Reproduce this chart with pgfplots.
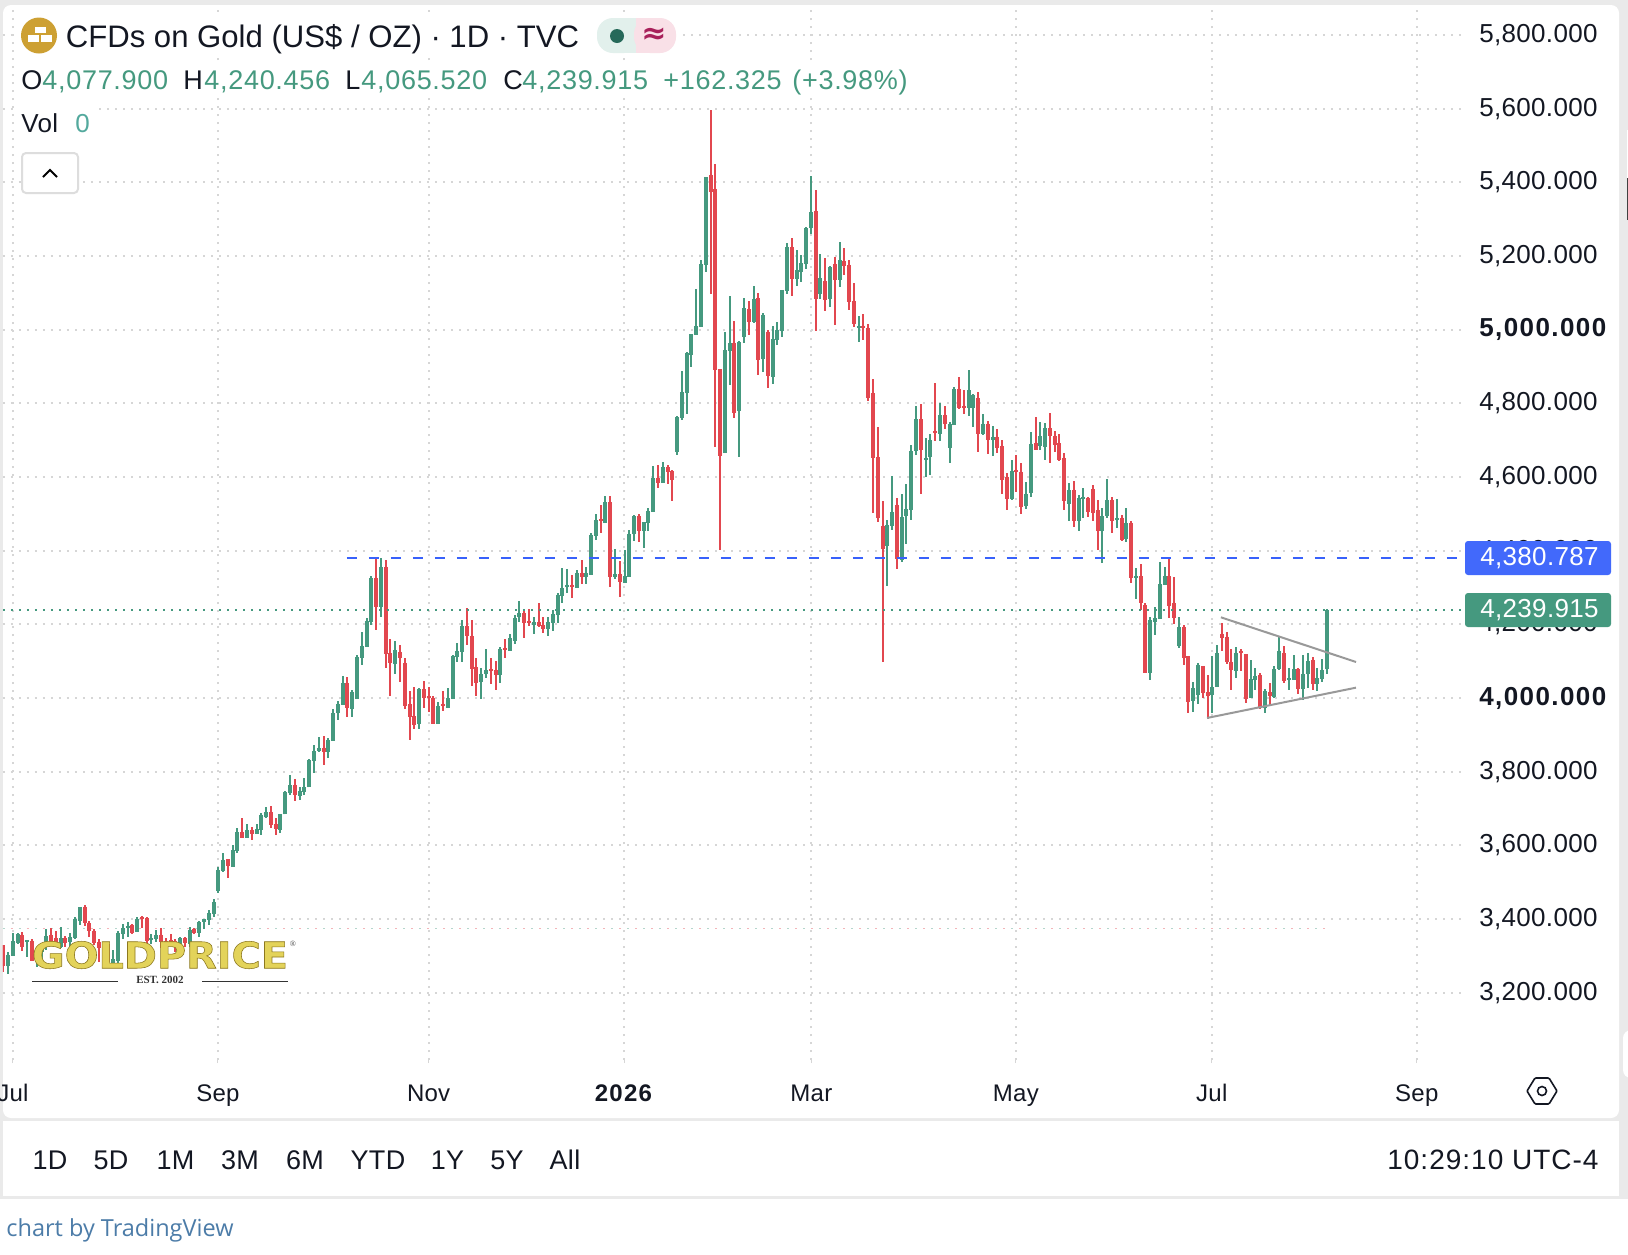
\documentclass[border=0pt]{standalone}
\usepackage{pgfplots}
\usepackage{pgfplotstable}
\usepackage{graphicx}
\usepackage{fontspec}
\pgfplotsset{compat=1.18}
\setmainfont{Liberation Sans}
\newfontfamily\pf{Liberation Sans}[LetterSpace=1.2,BoldFeatures={LetterSpace=5.4}]
\newfontfamily\hf{Liberation Sans}[LetterSpace=2.6]
\newfontfamily\clockf{Liberation Sans}[LetterSpace=3.6]
\newfontfamily\logof{DejaVu Sans}[BoldFeatures={FakeBold=1.5}]
\newfontfamily\logos{Liberation Serif}
\newfontfamily\tvf{Open Sans}
\newfontfamily\symf{DejaVu Sans}
\definecolor{up}{HTML}{45997F}
\definecolor{down}{HTML}{E2474F}
\definecolor{gridc}{HTML}{D6D6D6}
\definecolor{bluel}{HTML}{3861FB}
\definecolor{txt}{HTML}{131722}
\definecolor{panel}{HTML}{EAEAEA}
\definecolor{goldc}{HTML}{CDA033}
\definecolor{pillg}{HTML}{E2F0EC}
\definecolor{pillr}{HTML}{F9E0E7}
\definecolor{dotg}{HTML}{26695A}
\definecolor{wave}{HTML}{A8205A}
\definecolor{volc}{HTML}{53A99D}
\definecolor{btn}{HTML}{DDDDDD}
\definecolor{logol}{HTML}{E3D35A}
\definecolor{tvc}{HTML}{4C7CA8}

% daily candles: bar number, open, high, low, close
\pgfplotstableread{
i o h l c
0 3329 3329 3257 3272
1 3272 3311 3250 3302
2 3300 3361 3300 3340
3 3336 3361 3334 3359
4 3357 3365 3314 3325
5 3338 3343 3298 3343
6 3341 3346 3287 3287
7 3290 3320 3270 3310
8 3310 3330 3290 3325
9 3338 3372 3316 3354
10 3357 3375 3329 3338
11 3347 3368 3325 3334
12 3325 3377 3320 3347
13 3349 3354 3325 3336
14 3338 3363 3325 3352
15 3349 3404 3347 3399
16 3395 3433 3384 3432
17 3433 3437 3382 3388
18 3388 3395 3352 3366
19 3368 3373 3328 3334
20 3338 3346 3284 3320
21 3300 3325 3280 3315
22 3332 3336 3281 3284
23 3281 3316 3281 3290
24 3287 3366 3281 3363
25 3359 3386 3346 3375
26 3375 3392 3352 3381
27 3384 3386 3359 3363
28 3365 3404 3365 3401
29 3404 3408 3375 3399
30 3402 3406 3325 3340
31 3343 3359 3332 3347
32 3345 3370 3338 3357
33 3357 3375 3320 3338
34 3341 3347 3325 3336
35 3343 3359 3329 3338
36 3341 3346 3311 3334
37 3329 3350 3311 3347
38 3349 3352 3325 3334
39 3332 3377 3325 3370
40 3372 3375 3359 3361
41 3363 3395 3352 3393
42 3393 3399 3372 3399
43 3397 3424 3384 3417
44 3414 3454 3406 3446
45 3477 3540 3470 3533
46 3531 3578 3528 3560
47 3562 3562 3512 3544
48 3542 3601 3542 3587
49 3585 3646 3578 3635
50 3635 3673 3621 3621
51 3621 3658 3621 3642
52 3642 3651 3614 3631
53 3631 3658 3631 3643
54 3642 3687 3628 3682
55 3676 3703 3675 3690
56 3690 3707 3648 3655
57 3658 3673 3628 3643
58 3642 3684 3634 3684
59 3684 3747 3684 3745
60 3741 3791 3737 3764
61 3764 3779 3719 3737
62 3735 3759 3723 3747
63 3746 3782 3737 3757
64 3757 3834 3757 3832
65 3830 3871 3795 3857
66 3857 3893 3854 3863
67 3865 3897 3818 3854
68 3854 3890 3838 3886
69 3884 3969 3884 3958
70 3958 3991 3940 3984
71 3981 4060 3981 4040
72 4041 4056 3947 3973
73 3971 4022 3947 4016
74 3998 4117 3998 4112
75 4109 4179 4090 4141
76 4139 4217 4139 4209
77 4207 4331 4198 4326
78 4326 4380 4185 4248
79 4248 4380 4221 4356
80 4356 4375 4081 4120
81 4121 4160 4004 4096
82 4092 4155 4065 4129
83 4125 4144 4044 4109
84 4095 4109 3971 3978
85 3983 4019 3886 3949
86 3951 4030 3917 3927
87 3929 4028 3917 4025
88 4024 4046 3973 4000
89 4005 4030 3962 4000
90 4000 4005 3929 3929
91 3929 3989 3929 3979
92 3984 4019 3965 3979
93 3973 4027 3973 3999
94 3997 4117 3997 4114
95 4111 4149 4098 4128
96 4125 4212 4098 4195
97 4195 4244 4144 4168
98 4168 4212 4033 4079
99 4084 4109 4005 4041
100 4043 4081 3997 4065
101 4065 4133 4054 4076
102 4079 4109 4038 4074
103 4076 4100 4022 4062
104 4062 4138 4041 4133
105 4136 4160 4109 4130
106 4128 4174 4128 4163
107 4155 4225 4147 4217
108 4220 4263 4206 4231
109 4231 4236 4163 4204
110 4209 4242 4195 4204
111 4198 4220 4174 4206
112 4206 4258 4193 4195
113 4198 4220 4176 4187
114 4187 4220 4168 4206
115 4204 4239 4182 4228
116 4225 4285 4204 4280
117 4277 4353 4258 4299
118 4301 4350 4285 4307
119 4307 4334 4272 4301
120 4299 4348 4299 4339
121 4339 4375 4310 4329
122 4329 4356 4310 4339
123 4334 4448 4334 4443
124 4440 4500 4429 4483
125 4486 4524 4448 4481
126 4475 4548 4475 4532
127 4532 4548 4301 4329
128 4329 4405 4323 4337
129 4337 4372 4274 4315
130 4312 4402 4312 4331
131 4329 4456 4329 4445
132 4445 4497 4426 4494
133 4494 4500 4424 4453
134 4453 4478 4407 4478
135 4475 4516 4453 4508
136 4505 4630 4505 4597
137 4597 4633 4570 4584
138 4584 4641 4584 4627
139 4627 4633 4581 4614
140 4616 4619 4535 4592
141 4668 4766 4660 4763
142 4760 4888 4755 4831
143 4828 4939 4771 4937
144 4931 4988 4899 4988
145 4986 5110 4986 5010
146 5007 5189 5007 5178
147 5176 5415 5157 5415
148 5420 5596 5097 5374
149 5382 5450 4681 4891
150 4893 4893 4402 4657
151 4665 4994 4665 4945
152 4942 5091 4850 4964
153 4964 5024 4760 4774
154 4779 4969 4654 4967
155 4980 5086 4964 5059
156 5056 5078 4986 5021
157 5021 5119 5018 5083
158 5086 5100 4877 4918
159 4920 5045 4885 5040
160 4994 4999 4842 4874
161 4872 5010 4853 4975
162 4972 5021 4958 4999
163 4996 5108 4980 5108
164 5105 5235 5097 5224
165 5224 5249 5091 5138
166 5138 5216 5119 5162
167 5157 5203 5129 5181
168 5178 5279 5165 5276
169 5276 5417 5260 5319
170 5322 5379 4996 5083
171 5097 5205 5083 5140
172 5132 5195 5051 5081
173 5083 5173 5062 5170
174 5178 5197 5013 5135
175 5135 5238 5116 5189
176 5186 5222 5148 5173
177 5176 5189 5053 5075
178 5078 5127 5007 5015
179 5005 5037 4967 5010
180 5010 5043 4972 5005
181 5005 5015 4806 4815
182 4828 4866 4502 4652
183 4654 4736 4478 4489
184 4467 4535 4099 4405
185 4413 4483 4304 4470
186 4467 4603 4456 4505
187 4524 4543 4350 4377
188 4375 4554 4369 4491
189 4494 4581 4418 4513
190 4510 4687 4483 4671
191 4671 4793 4660 4757
192 4757 4798 4554 4673
193 4646 4706 4600 4652
194 4654 4717 4605 4700
195 4725 4855 4698 4719
196 4717 4801 4698 4768
197 4768 4793 4730 4744
198 4679 4749 4638 4744
199 4741 4844 4741 4839
200 4839 4872 4785 4787
201 4793 4836 4771 4787
202 4787 4891 4766 4836
203 4787 4825 4736 4823
204 4815 4831 4668 4717
205 4717 4771 4714 4744
206 4744 4752 4662 4700
207 4700 4738 4657 4709
208 4709 4730 4665 4679
209 4684 4700 4554 4592
210 4600 4611 4510 4540
211 4540 4646 4538 4616
212 4619 4660 4559 4614
213 4614 4638 4500 4519
214 4521 4586 4513 4554
215 4557 4722 4546 4690
216 4692 4763 4673 4673
217 4684 4749 4673 4711
218 4681 4747 4646 4733
219 4733 4774 4638 4711
220 4711 4725 4668 4687
221 4692 4717 4643 4646
222 4652 4665 4510 4535
223 4527 4584 4481 4565
224 4565 4589 4464 4481
225 4481 4551 4453 4543
226 4540 4570 4489 4546
227 4543 4546 4491 4505
228 4567 4578 4481 4502
229 4510 4538 4402 4453
230 4453 4516 4367 4494
231 4494 4595 4489 4538
232 4538 4546 4448 4481
233 4483 4540 4462 4489
234 4489 4497 4426 4429
235 4432 4516 4424 4475
236 4475 4481 4312 4326
237 4326 4353 4269 4331
238 4331 4364 4239 4258
239 4252 4258 4068 4068
240 4068 4220 4049 4212
241 4206 4247 4171 4217
242 4214 4369 4214 4310
243 4307 4356 4307 4331
244 4331 4383 4217 4250
245 4258 4329 4201 4217
246 4141 4220 4136 4193
247 4193 4198 4090 4109
248 4114 4114 3959 3989
249 3992 4043 3962 4027
250 4008 4095 3984 4090
251 4087 4087 4000 4014
252 4016 4062 3943 4005
253 4008 4114 3959 4030
254 4030 4144 4030 4122
255 4174 4204 4128 4163
256 4166 4179 4092 4098
257 4098 4133 4022 4076
258 4073 4138 4054 4122
259 4128 4133 4073 4122
260 4119 4119 3986 3997
261 4000 4103 4000 4052
262 4049 4081 4022 4060
263 4062 4068 3970 3973
264 3973 4024 3959 4019
265 4016 4041 3981 4005
266 4003 4087 4000 4079
267 4079 4166 4076 4128
268 4122 4141 4041 4046
269 4049 4081 4022 4054
270 4049 4117 4049 4079
271 4079 4081 4011 4024
272 4024 4117 3995 4065
273 4065 4122 4027 4100
274 4103 4111 4022 4038
275 4038 4081 4019 4054
276 4052 4106 4043 4076
277 4077.9 4240.456 4065.52 4239.915
}\ohlc

\begin{document}
\begin{tikzpicture}
\useasboundingbox (0,0) rectangle (814pt,-627pt);
% page: pixel coordinates, origin top left
\begin{scope}[x=0.5pt,y=-0.5pt]
\fill[white] (0,0) rectangle (1628,1254);
\fill[panel] (0,0) rectangle (1628,1198.5);
\fill[white,rounded corners=4pt] (3,5) rectangle (1619,1118);
\fill[white] (3,1120.5) rectangle (1619,1196);
\fill[white,rounded corners=4pt] (1623,1030) rectangle (1640,1078);
\fill[white] (1627,130) rectangle (1628,178);
\fill[black!75] (1627,178) rectangle (1628,220);
\end{scope}

\begin{axis}[
    at={(1.5pt,-530pt)}, anchor=south west,
    scale only axis, width=729pt, height=527.5pt,
    xmin=-0.07, xmax=305.04, ymin=3017, ymax=5881.5,
    axis line style={draw=none},
    tick align=outside,
    xtick pos=bottom, ytick pos=right, yticklabel pos=right,
    xtick={2,44.9,89,129.9,169.1,211.9,252.9,295.8},
    xticklabels={Jul,Sep,Nov,\textbf{2026},Mar,May,Jul,Sep},
    ytick={3200,3400,3600,3800,4000,4200,4400,4600,4800,5000,5200,5400,5600,5800},
    yticklabels={{3,200.000},{3,400.000},{3,600.000},{3,800.000},\textbf{4,000.000},{4,200.000},{4,400.000},{4,600.000},{4,800.000},\textbf{5,000.000},{5,200.000},{5,400.000},{5,600.000},{5,800.000}},
    x tick style={color=gridc,line width=0.5pt},
    y tick style={draw=none},
    major tick length=1.5pt,
    xticklabel style={anchor=base,yshift=-19pt,font=\pf\fontsize{12}{15}\selectfont,text=txt},
    yticklabel style={anchor=west,inner sep=0pt,xshift=7.5pt,font=\pf\fontsize{13}{15}\selectfont,text=txt},
    grid=major,
    grid style={color=gridc,line width=1pt,dash pattern=on 1pt off 3pt},
    error bars/error mark=none,
    unbounded coords=discard,
]
% faint previous close line
\addplot[forget plot,color=up!40,line width=0.5pt,dash pattern=on 1pt off 7pt] coordinates {(-0.07,3373) (277,3373)};
\addplot[forget plot,color=down!40,line width=0.5pt,dash pattern=on 1pt off 7pt,dash phase=4pt] coordinates {(-0.07,3373) (277,3373)};

% wicks
\addplot[forget plot,draw=none,mark=none,x filter/.expression={\thisrow{c}>=\thisrow{o} ? x : nan},
    error bars/.cd,y dir=both,y explicit,error bar style={color=up,line width=1pt}]
    table[x=i,y=o,y error plus expr=\thisrow{h}-\thisrow{o},y error minus expr=\thisrow{o}-\thisrow{l}] {\ohlc};
\addplot[forget plot,draw=none,mark=none,x filter/.expression={\thisrow{c}<\thisrow{o} ? x : nan},
    error bars/.cd,y dir=both,y explicit,error bar style={color=down,line width=1pt}]
    table[x=i,y=o,y error plus expr=\thisrow{h}-\thisrow{o},y error minus expr=\thisrow{o}-\thisrow{l}] {\ohlc};
% bodies
\addplot[forget plot,draw=none,mark=none,x filter/.expression={\thisrow{c}>=\thisrow{o} ? x : nan},
    error bars/.cd,y dir=plus,y explicit,error bar style={color=up,line width=2pt}]
    table[x=i,y=o,y error plus expr=\thisrow{c}-\thisrow{o}] {\ohlc};
\addplot[forget plot,draw=none,mark=none,x filter/.expression={\thisrow{c}<\thisrow{o} ? x : nan},
    error bars/.cd,y dir=minus,y explicit,error bar style={color=down,line width=2pt}]
    table[x=i,y=o,y error minus expr=\thisrow{o}-\thisrow{c}] {\ohlc};

% resistance and last price lines
\addplot[forget plot,color=bluel,line width=1pt,dash pattern=on 5pt off 6pt] coordinates {(71.9,4380.787) (305,4380.787)};
\addplot[forget plot,color=up,line width=1pt,dash pattern=on 1pt off 3pt] coordinates {(-0.07,4239.915) (305,4239.915)};
% triangle
\addplot[forget plot,color=black!40,line width=1pt] coordinates {(254.8,4219) (283.07,4097.7)};
\addplot[forget plot,color=black!40,line width=1pt] coordinates {(251.9,3945.7) (283.07,4028)};
\end{axis}

\begin{scope}[x=0.5pt,y=-0.5pt]
% price badges over the scale
\fill[bluel!95!white,rounded corners=1.5pt] (1465,541) rectangle (1611,575);
\fill[up,rounded corners=1.5pt] (1465,593) rectangle (1611,627);
\node[anchor=west,inner sep=0pt,text=white,font=\pf\fontsize{13}{15}\selectfont] at (1480,558) {4,380.787};
\node[anchor=west,inner sep=0pt,text=white,font=\pf\fontsize{13}{15}\selectfont] at (1480,610) {4,239.915};

% header
\fill[white] (15,12) rectangle (680,58);
\fill[white] (15,62) rectangle (910,98);
\fill[white] (15,105) rectangle (95,140);
\fill[goldc] (39,35.5) circle (18);
\fill[white] (34.5,27) rectangle (45.5,33);
\fill[white] (27.5,35) rectangle (38.5,42);
\fill[white] (40.5,35) rectangle (51.5,42);
\node[anchor=base west,inner sep=0pt,text=txt,font=\fontsize{15.55}{19}\selectfont] at (65.5,47) {CFDs on Gold (US\$ / OZ) · 1D · TVC};
\fill[pillg,rounded corners=8pt] (597,18) rectangle (640,53);
\fill[pillg] (625,18) rectangle (636,53);
\fill[pillr,rounded corners=8pt] (634,18) rectangle (676,53);
\fill[pillr] (636,18) rectangle (650,53);
\fill[dotg] (617,36) circle (7);
\node[inner sep=0pt,text=wave,font=\symf\bfseries\fontsize{15}{18}\selectfont] at (654,36) {≈};
\foreach \xx/\tt in {21/O,183/H,345/L,503/C}
  \node[anchor=base west,inner sep=0pt,text=txt,font=\hf\fontsize{13.5}{15}\selectfont] at (\xx,89) {\tt};
\foreach \xx/\tt in {42/{4,077.900},204/{4,240.456},361/{4,065.520},522/{4,239.915},663/{+162.325},792/{(+3.98\%)}}
  \node[anchor=base west,inner sep=0pt,text=up,font=\hf\fontsize{13.5}{15}\selectfont] at (\xx,89) {\tt};
\node[anchor=base west,inner sep=0pt,text=txt,font=\pf\fontsize{13}{15}\selectfont] at (21,132) {Vol};
\node[anchor=base west,inner sep=0pt,text=volc,font=\pf\fontsize{13}{15}\selectfont] at (75,132) {0};
\draw[btn,line width=1pt,fill=white,rounded corners=2pt] (22,153) rectangle (78,193);
\draw[black,line width=1pt] (43,177) -- (50,170) -- (57,177);

% logo, gold fill with a darker stroke
\node[inner sep=0pt,text=logol] at (160,955) {\resizebox{128pt}{13.5pt}{\logof\bfseries\special{pdf:code 0.55 0.47 0.12 RG}GOLDPRICE}};
\node[inner sep=0pt,text=black!70,font=\logos\fontsize{4}{5}\selectfont] at (293,944) {®};
\draw[black!80,line width=0.5pt] (32,981) -- (118,981) (202,981) -- (288,981);
\node[inner sep=0pt,text=black!80,font=\logos\bfseries\fontsize{5.5}{7}\selectfont] at (160,980) {EST. 2002};

% settings icon
\draw[txt,line width=0.8pt,rounded corners=0.5pt] (1527,1091) -- (1535,1078) -- (1549,1078) -- (1557,1091) -- (1549,1104) -- (1535,1104) -- cycle;
\draw[txt,line width=0.8pt] (1542,1091) circle (4.5);

% range bar
\foreach \xx/\tt in {50/1D,111/5D,175.5/1M,240/3M,305/6M,378/YTD,447.6/1Y,507/5Y,565/All}
  \node[anchor=base,inner sep=0pt,text=txt,font=\pf\fontsize{13.5}{16}\selectfont] at (\xx,1169) {\tt};
\node[anchor=base east,inner sep=0pt,text=txt,font=\clockf\fontsize{14}{16}\selectfont] at (1599,1169) {10:29:10 UTC-4};
\node[anchor=base west,inner sep=0pt,text=tvc,font=\tvf\fontsize{11.75}{15}\selectfont] at (6,1236) {chart by TradingView};
\end{scope}
\end{tikzpicture}
\end{document}
